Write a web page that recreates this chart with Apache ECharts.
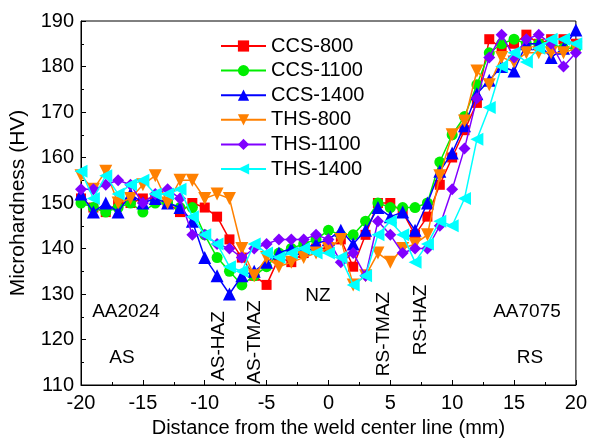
<!DOCTYPE html>
<html>
<head>
<meta charset="utf-8">
<script src="https://cdn.jsdelivr.net/npm/echarts@6/dist/echarts.min.js"></script>
<style>
  html, body { margin: 0; padding: 0; background: #fff; }
  #chart { width: 590px; height: 443px; }
</style>
</head>
<body>
<div id="chart"></div>
<script>
// 距焊缝中心的位置 (mm)
const distances = [];
for (let d = -20; d <= 20; d++) distances.push(d);

const seriesNames = ['CCS-800', 'CCS-1100', 'CCS-1400', 'THS-800', 'THS-1100', 'THS-1400'];

// 显微硬度 (HV)
const ccs800 = [151, 149, 148, 150, 150, 151, 151, 150, 148, 150,
  149, 147, 142, 138, 134, 132, 138, 137, 139, 140,
  140, 142, 136, 143, 150, 150, 148, 143, 147, 154,
  160, 166, 172, 186, 184, 185, 187, 185, 186, 186, 185];
const ccs1100 = [150, 149, 148, 149, 150, 148, 150, 150, 149, 149,
  143, 138, 135, 132, 134, 136, 139, 140, 141, 142,
  144, 143, 143, 146, 150, 149, 149, 149, 150, 159,
  165, 169, 176, 183, 185, 186, 185, 185, 185, 184, 184];
const ccs1400 = [152, 148, 150, 148, 152, 150, 151, 150, 149, 146,
  138, 134, 130, 134, 135, 137, 139, 140, 140, 141,
  142, 144, 141, 144, 149, 147, 148, 144, 150, 157,
  161, 167, 174, 177, 180, 179, 185, 185, 182, 184, 188];
const ths800 = [156, 153, 157, 150, 151, 154, 156, 150, 155, 155,
  151, 152, 151, 140, 134, 138, 136, 137, 138, 139,
  140, 142, 132, 134, 139, 137, 140, 141, 143, 156,
  165, 168, 179, 176, 182, 181, 183, 183, 183, 183, 184];
const ths1100 = [153, 153, 154, 155, 154, 150, 152, 153, 151, 143,
  143, 141, 140, 138, 140, 141, 142, 142, 142, 143,
  142, 137, 139, 134, 146, 143, 139, 140, 140, 145,
  153, 162, 173, 182, 187, 182, 186, 187, 185, 180, 183];
const ths1400 = [157, 151, 156, 152, 154, 155, 152, 152, 153, 147,
  143, 141, 136, 135, 141, 139, 138, 139, 140, 139,
  139, 138, 132, 134, 143, 146, 143, 137, 141, 146,
  145, 151, 164, 171, 180, 183, 181, 184, 186, 186, 185];

const allValues = [ccs800, ccs1100, ccs1400, ths800, ths1100, ths1400];
const colors = ['#ff0000', '#00ee00', '#0000ff', '#ff8000', '#8000ff', '#00ffff'];
const symbols = ['rect', 'circle', 'triangle', 'triangle', 'diamond', 'triangle'];
const symbolRotates = [0, 0, 0, 180, 0, 90];
const symbolSizes = [10, 11, 13, 13, 12, 13];

// 区域标注
const zoneLabels = [
  { text: 'AA2024', x: 126, y: 312, rotate: 0 },
  { text: 'AS', x: 122, y: 358, rotate: 0 },
  { text: 'AS-HAZ', x: 219, y: 346, rotate: 90 },
  { text: 'AS-TMAZ', x: 255, y: 342, rotate: 90 },
  { text: 'NZ', x: 318, y: 296, rotate: 0 },
  { text: 'RS-TMAZ', x: 384, y: 334, rotate: 90 },
  { text: 'RS-HAZ', x: 421, y: 320, rotate: 90 },
  { text: 'AA7075', x: 527, y: 312, rotate: 0 },
  { text: 'RS', x: 530, y: 358, rotate: 0 }
];

const FONT = 'Liberation Sans, Arial, sans-serif';

const chart = echarts.init(document.getElementById('chart'));

const series = seriesNames.map((name, i) => ({
  name: name,
  type: 'line',
  data: distances.map((d, j) => [d, allValues[i][j]]),
  symbol: symbols[i],
  symbolSize: symbolSizes[i],
  symbolRotate: symbolRotates[i],
  showAllSymbol: true,
  lineStyle: { color: colors[i], width: 1.5 },
  itemStyle: { color: colors[i] },
  z: 2 + i
}));

const option = {
  animation: false,
  backgroundColor: '#fff',
  grid: {
    left: 77, right: 12, top: 21, bottom: 52,
    show: true, borderColor: '#000', borderWidth: 1
  },
  legend: {
    orient: 'vertical',
    left: 215, top: 31,
    itemWidth: 45, itemHeight: 14,
    itemGap: 4.6,
    backgroundColor: '#fff',
    textStyle: { fontFamily: FONT, fontSize: 20, color: '#000', lineHeight: 20 },
    data: seriesNames
  },
  xAxis: {
    type: 'value',
    min: -20, max: 20, interval: 5,
    name: 'Distance from the weld center line (mm)',
    nameLocation: 'middle', nameGap: 33,
    nameTextStyle: { fontFamily: FONT, fontSize: 20, color: '#000' },
    axisLine: { onZero: false, lineStyle: { color: '#000', width: 1 } },
    axisTick: { inside: true, length: 5, lineStyle: { color: '#000' } },
    minorTick: { show: true, splitNumber: 2, length: 3, lineStyle: { color: '#000' } },
    axisLabel: { fontFamily: FONT, fontSize: 20, color: '#000', margin: 8 },
    splitLine: { show: false }
  },
  yAxis: {
    type: 'value',
    min: 110, max: 190, interval: 10,
    name: 'Microhardness (HV)',
    nameLocation: 'middle', nameGap: 52,
    nameTextStyle: { fontFamily: FONT, fontSize: 21, color: '#000' },
    axisLine: { show: true, onZero: false, lineStyle: { color: '#000', width: 1 } },
    axisTick: { inside: true, length: 5, lineStyle: { color: '#000' } },
    minorTick: { show: true, splitNumber: 2, length: 3, lineStyle: { color: '#000' } },
    axisLabel: { fontFamily: FONT, fontSize: 20, color: '#000', margin: 7 },
    splitLine: { show: false }
  },
  graphic: zoneLabels.map(l => ({
    type: 'text',
    x: l.x, y: l.y,
    rotation: l.rotate * Math.PI / 180,
    z: 1,
    style: {
      text: l.text,
      fontFamily: FONT, fontSize: 19, fill: '#000',
      align: 'center', verticalAlign: 'middle'
    }
  })),
  series: series
};

chart.setOption(option);
</script>
</body>
</html>
